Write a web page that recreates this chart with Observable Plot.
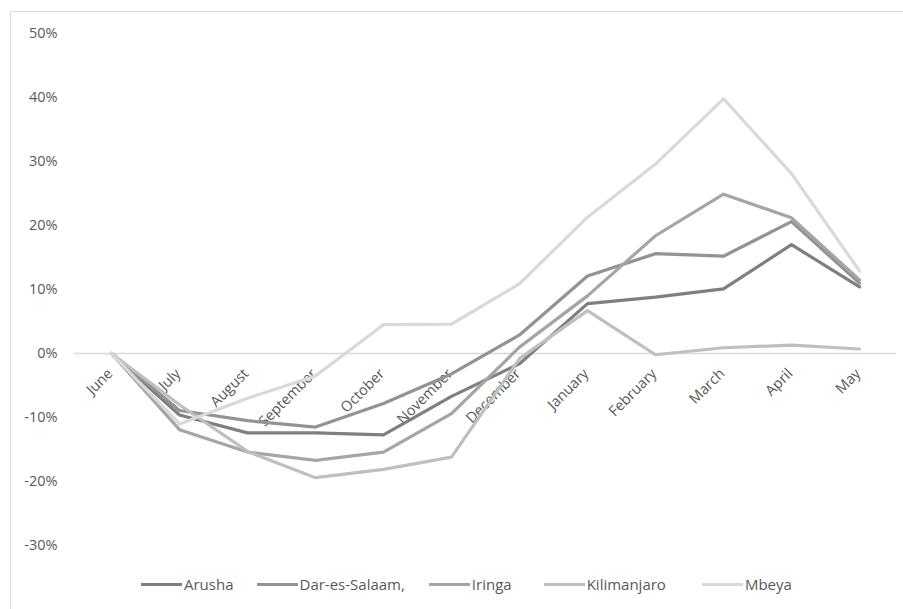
<!DOCTYPE html>
<html>
<head>
<meta charset="utf-8">
<script src="https://cdn.jsdelivr.net/npm/d3@7"></script>
<script src="https://cdn.jsdelivr.net/npm/@observablehq/plot@0.6"></script>
<style>
  html, body { margin: 0; padding: 0; background: #fff; }
  body { width: 903px; height: 609px; position: relative; overflow: hidden; font-family: "Open Sans", sans-serif; }
  #frame { position: absolute; left: 10px; top: 11px; width: 900px; height: 610px; border: 1px solid #d9d9d9; box-sizing: border-box; pointer-events: none; }
  #chart { position: absolute; left: 0; top: 0; }
  #legend { position: absolute; left: 141px; top: 574px; height: 20px; display: flex; align-items: center; font-size: 15px; color: #595959; white-space: nowrap; }
  .item { display: flex; align-items: center; }
  .item:nth-child(1) { margin-right: 23px; }
  .item:nth-child(2) { margin-right: 24px; }
  .item:nth-child(3) { margin-right: 32px; }
  .item:nth-child(4) { margin-right: 36px; }
  .sw { width: 41px; height: 3px; margin-right: 2px; }
</style>
</head>
<body>
<div id="frame"></div>
<div id="chart"></div>
<div id="legend"></div>
<script>
const months = ["June","July","August","September","October","November","December","January","February","March","April","May"];
const seriesNames = ["Arusha","Dar-es-Salaam,","Iringa","Kilimanjaro","Mbeya"];
const seriesColors = ["#7f7f7f","#939393","#a5a5a5","#bfbfbf","#d9d9d9"];
const yTicks = [-30,-20,-10,0,10,20,30,40,50];

const arusha      = [0, -9.6, -12.4, -12.4, -12.7, -6.7, -1.6,  7.8,  8.8, 10.1, 17.0, 10.4];
const darEsSalaam = [0, -8.9, -10.5, -11.5,  -7.8, -3.2,  2.9, 12.1, 15.6, 15.2, 20.6, 11.0];
const iringa      = [0, -11.9, -15.4, -16.7, -15.4, -9.4, 1.0,  9.0, 18.4, 24.9, 21.2, 11.5];
const kilimanjaro = [0, -8.0, -15.3, -19.4, -18.1, -16.2, -0.8, 6.7, -0.2,  0.9,  1.3,  0.7];
const mbeya       = [0, -11.0, -7.0, -3.5,   4.5,  4.6, 10.9, 21.3, 29.6, 39.8, 28.1, 12.9];

const seriesValues = [arusha, darEsSalaam, iringa, kilimanjaro, mbeya];
const rows = [];
seriesNames.forEach((name, i) => {
  months.forEach((m, j) => rows.push({series: name, month: m, value: seriesValues[i][j]}));
});

const chart = Plot.plot({
  width: 903,
  height: 570,
  marginLeft: 74,
  marginRight: 7,
  marginTop: 33,
  marginBottom: 25,
  style: {fontFamily: "'Open Sans', sans-serif", fontSize: "14.5px", color: "#595959", background: "transparent"},
  x: {type: "point", domain: months, padding: 0.5, axis: null},
  y: {domain: [-30, 50], axis: null, label: null},
  color: {domain: seriesNames, range: seriesColors},
  marks: [
    Plot.axisY({ticks: yTicks, tickSize: 0, tickPadding: 17, tickFormat: d => d + "%", fill: "#595959", fontSize: 14.5, label: null}),
    Plot.ruleY([0], {stroke: "#d9d9d9", strokeWidth: 1.3}),
    Plot.text(months, {x: d => d, y: 0, text: d => d, rotate: -45, textAnchor: "end", lineAnchor: "bottom", dx: 2, dy: 21, fill: "#595959", fontSize: 14.5}),
    Plot.line(rows, {x: "month", y: "value", z: "series", stroke: "series", strokeWidth: 3.2, strokeLinejoin: "round", strokeLinecap: "round"})
  ]
});
document.getElementById("chart").appendChild(chart);

const legend = document.getElementById("legend");
seriesNames.forEach((name, i) => {
  const item = document.createElement("div");
  item.className = "item";
  const sw = document.createElement("div");
  sw.className = "sw";
  sw.style.background = seriesColors[i];
  const lab = document.createElement("span");
  lab.textContent = name;
  item.appendChild(sw);
  item.appendChild(lab);
  legend.appendChild(item);
});
</script>
</body>
</html>
